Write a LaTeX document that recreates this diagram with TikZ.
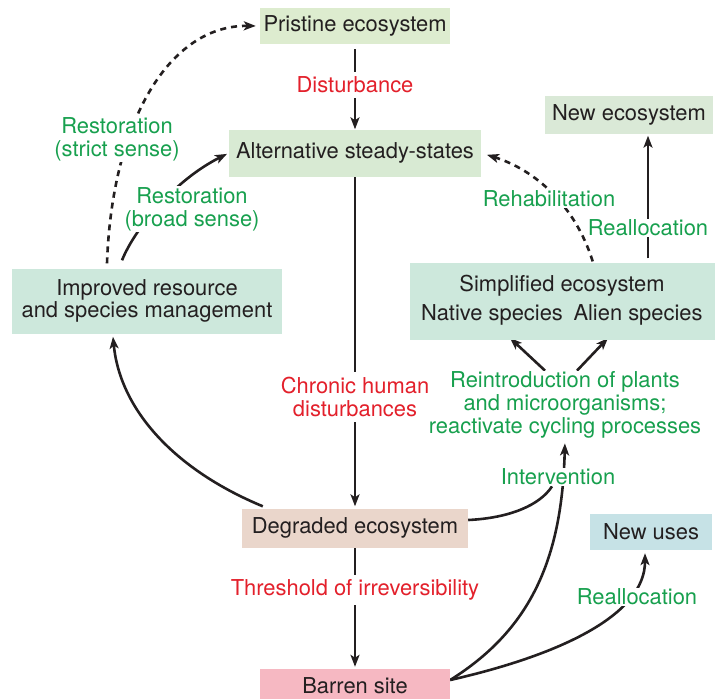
\documentclass[tikz,border=0pt]{standalone}
\usepackage{fontspec}
\setmainfont{TeX Gyre Heros}
\usetikzlibrary{arrows.meta,backgrounds}
\definecolor{ink}{HTML}{231F20}
\definecolor{txtred}{HTML}{E3202B}
\definecolor{txtgreen}{HTML}{17A04E}
\definecolor{pristinefill}{HTML}{DDECCF}
\definecolor{altfill}{HTML}{D8EAD3}
\definecolor{newecofill}{HTML}{DAE9D7}
\definecolor{mgmtfill}{HTML}{CDE8DC}
\definecolor{degfill}{HTML}{EAD6CB}
\definecolor{usesfill}{HTML}{C6E2E6}
\definecolor{barrenfill}{HTML}{F6B8C2}

\begin{document}
\begin{tikzpicture}[x=1pt,y=-1pt,
  every node/.style={font=\fontsize{21.9}{22.8}\selectfont},
  box/.style={inner sep=0pt,align=center,text=ink},
  lbl/.style={fill=white,inner sep=1pt,align=center},
  redlbl/.style={lbl,text=txtred,inner ysep=5pt},
  arr/.style={line width=2.6pt,draw=ink,-{Stealth[length=12pt,width=9pt,inset=3pt]}},
  dsh/.style={arr,dash pattern=on 6pt off 5pt}]
\useasboundingbox (0,0) rectangle (719,698);

\node[box,fill=pristinefill,minimum width=190pt,minimum height=36pt] (pristine) at (355,26) {Pristine ecosystem};
\node[box,fill=altfill,minimum width=252pt,minimum height=47pt] (alt) at (355,153) {Alternative steady-states};
\node[box,fill=newecofill,minimum width=168pt,minimum height=37pt] (neweco) at (629,115) {New ecosystem};
\node[box,fill=mgmtfill,minimum width=305pt,minimum height=77pt] (simp) at (562,301) {};
\node[box] (simptitle) at (562,286) {Simplified ecosystem};
\node[box] (native) at (492,315) {Native species};
\node[box] (alien) at (638,315) {Alien species};
\node[box,fill=mgmtfill,minimum width=270pt,minimum height=65pt] (improved) at (147,301) {Improved resource\\and species management};
\node[box,fill=degfill,minimum width=226pt,minimum height=39pt] (degraded) at (355,528) {Degraded ecosystem};
\node[box,fill=usesfill,minimum width=122pt,minimum height=36pt] (newuses) at (651,532) {New uses};
\node[box,fill=barrenfill,minimum width=190pt,minimum height=34pt] (barren) at (355,686) {Barren site};

\node[lbl,text=txtgreen] (reintro) at (565,405) {Reintroduction of plants\\and microorganisms;\\reactivate cycling processes};
\node[redlbl] (disturb) at (355,85) {Disturbance};
\node[redlbl] (chronic) at (355,397) {Chronic human\\disturbances};
\node[redlbl] (threshold) at (355,590) {Threshold of irreversibility};
\node[lbl,text=txtgreen] (strict) at (117,139) {Restoration\\(strict sense)};
\node[lbl,text=txtgreen] (broad) at (192,209) {Restoration\\(broad sense)};
\node[lbl,text=txtgreen] (rehab) at (549,199) {Rehabilitation};
\node[lbl,text=txtgreen] (realloctop) at (648,228) {Reallocation};
\node[lbl,text=txtgreen] (interv) at (558,477) {Intervention};
\node[lbl,text=txtgreen] (reallocbot) at (637,597) {Reallocation};

\begin{pgfonlayer}{background}
\draw[arr,shorten <=5pt] (pristine) -- (alt);
\draw[arr,shorten >=2pt] (alt) -- (degraded);
\draw[arr,shorten >=2pt] (degraded) -- (barren);
\draw[dsh,shorten >=4pt] ([xshift=-40pt,yshift=5pt]improved.north) .. controls (112,120) and (170,25) .. (pristine.west);
\draw[arr,shorten >=2pt] ([xshift=-25pt,yshift=8pt]improved.north) .. controls (135,228) and (175,180) .. (alt.west);
\draw[arr] ([xshift=21pt,yshift=2pt]degraded.north west) .. controls (175,470) and (120,410) .. ([xshift=-34pt,yshift=-3pt]improved.south);
\draw[line width=2.6pt,draw=ink] ([yshift=8pt]degraded.east) .. controls (510,518) and (540,505) .. (interv);
\draw[arr,shorten >=4pt] ([yshift=6pt]barren.east) .. controls (530,630) and (562,560) .. (reintro.south);
\draw[arr,shorten >=3pt] ([yshift=6pt]barren.east) .. controls (560,655) and (645,615) .. ([xshift=-6pt]newuses.south);
\draw[arr] ([xshift=-20pt]reintro.north) -- (510,338);
\draw[arr] ([xshift=12pt]reintro.north) -- (608,338);
\draw[dsh,shorten >=6pt,shorten <=1pt] ([xshift=31pt]simp.north) .. controls (575,205) and (535,170) .. (alt.east);
\draw[arr,shorten <=4pt,shorten >=2pt] ([xshift=86pt]simp.north) -- ([xshift=19pt]neweco.south);
\end{pgfonlayer}
\end{tikzpicture}
\end{document}
